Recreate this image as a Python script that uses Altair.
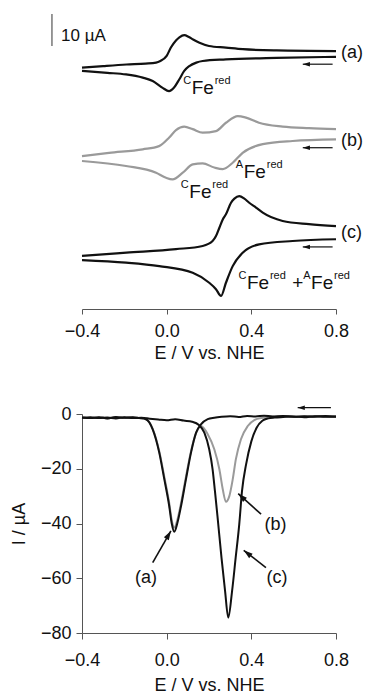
import altair as alt
import pandas as pd

# ---------------- top panel: cyclic voltammograms (uA, relative to each trace's baseline)
A_FWD_E = [-0.40, -0.30, -0.19, -0.10, -0.05, -0.03, 0.00, 0.02, 0.045, 0.06, 0.083, 0.105, 0.125, 0.155, 0.20, 0.28, 0.36, 0.52, 0.80]
A_FWD_I = [0.4, 0.9, 1.4, 1.7, 2.0, 2.5, 4.1, 6.7, 9.0, 9.9, 10.6, 10.0, 9.2, 8.2, 7.2, 6.7, 6.2, 5.8, 5.6]
A_REV_E = [0.80, 0.52, 0.28, 0.17, 0.14, 0.107, 0.083, 0.060, 0.035, 0.011, -0.019, -0.066, -0.113, -0.192, -0.28, -0.40]
A_REV_I = [3.8, 3.5, 3.0, 2.5, 2.0, 0.9, -0.6, -3.2, -5.8, -6.9, -5.9, -3.75, -2.7, -1.7, -1.2, -0.6]

B_FWD_E = [-0.40, -0.272, -0.113, -0.036, 0.011, 0.044, 0.083, 0.123, 0.170, 0.233, 0.280, 0.336, 0.375, 0.436, 0.548, 0.672, 0.80]
B_FWD_I = [0.8, 1.8, 2.9, 3.9, 6.5, 8.9, 10.0, 9.2, 8.1, 8.6, 11.2, 13.3, 12.8, 11.2, 10.0, 9.5, 9.2]
B_REV_E = [0.80, 0.595, 0.454, 0.359, 0.312, 0.265, 0.225, 0.170, 0.123, 0.076, 0.028, -0.003, -0.050, -0.192, -0.40]
B_REV_I = [6.0, 5.5, 4.5, 1.8, -1.3, -3.3, -2.8, -1.5, -1.8, -4.4, -6.5, -6.0, -4.4, -2.3, -0.75]

C_FWD_E = [-0.40, -0.19, 0.044, 0.17, 0.217, 0.233, 0.249, 0.265, 0.280, 0.304, 0.320, 0.343, 0.367, 0.390, 0.422, 0.454, 0.548, 0.672, 0.80]
C_FWD_I = [0.6, 1.6, 2.7, 3.7, 5.25, 6.8, 9.4, 12.0, 13.6, 17.2, 18.5, 19.3, 18.5, 17.2, 15.7, 14.1, 11.5, 10.5, 9.9]
C_REV_E = [0.80, 0.595, 0.437, 0.359, 0.312, 0.280, 0.257, 0.233, 0.201, 0.123, -0.035, -0.192, -0.40]
C_REV_I = [5.8, 5.25, 4.2, 1.6, -2.6, -7.8, -11.9, -9.8, -7.8, -4.7, -2.6, -1.5, -0.7]

CV_OFFSET = {"a": 75.0, "b": 47.0, "c": 16.0}

# ---------------- bottom panel: stripping / linear sweep (uA)
LA_E = [-0.40, -0.36, -0.32, -0.28, -0.24, -0.20, -0.16, -0.13, -0.098, -0.066, -0.035, -0.011, 0.012, 0.024, 0.036, 0.050, 0.068, 0.091, 0.115, 0.139, 0.162, 0.194, 0.225, 0.26, 0.30, 0.34, 0.38, 0.42, 0.46, 0.50, 0.55, 0.60, 0.65, 0.70, 0.75, 0.80]
LA_I = [-1.3, -1.5, -1.2, -1.6, -1.1, -1.4, -1.2, -1.5, -1.9, -5.6, -14.1, -23.9, -33.6, -40.0, -43.0, -40.0, -33.6, -23.9, -14.1, -6.8, -3.8, -1.9, -1.35, -1.0, -0.8, -1.1, -0.7, -0.9, -0.6, -0.9, -0.7, -1.0, -0.8, -1.0, -0.7, -1.0]

LB_E = [-0.40, -0.36, -0.32, -0.28, -0.24, -0.20, -0.16, -0.13, -0.098, -0.066, -0.035, -0.011, 0.012, 0.024, 0.036, 0.050, 0.068, 0.091, 0.115, 0.139, 0.162, 0.194, 0.225, 0.249, 0.265, 0.280, 0.296, 0.312, 0.327, 0.351, 0.383, 0.414, 0.454, 0.50, 0.55, 0.60, 0.65, 0.70, 0.75, 0.80]
LB_I = [-1.3, -1.5, -1.2, -1.6, -1.1, -1.4, -1.2, -1.5, -1.9, -5.4, -13.6, -23.0, -32.5, -38.8, -41.5, -38.8, -32.5, -23.0, -13.6, -7.0, -4.4, -7.4, -12.9, -20.2, -27.5, -32.1, -30.0, -23.9, -16.5, -9.2, -4.4, -2.2, -1.35, -1.0, -0.8, -1.1, -0.9, -0.8, -1.0, -0.9]

LC_E = [-0.40, -0.36, -0.32, -0.28, -0.24, -0.20, -0.16, -0.12, -0.08, -0.04, 0.00, 0.04, 0.08, 0.12, 0.154, 0.178, 0.201, 0.217, 0.228, 0.240, 0.259, 0.276, 0.291, 0.309, 0.326, 0.343, 0.356, 0.375, 0.400, 0.425, 0.452, 0.48, 0.51, 0.55, 0.60, 0.65, 0.70, 0.75, 0.80]
LC_I = [-1.4, -1.2, -1.5, -1.3, -1.6, -1.2, -1.5, -1.4, -1.7, -2.0, -2.3, -1.9, -2.4, -2.8, -4.1, -6.8, -12.9, -20.2, -28.1, -37.3, -52.5, -64.7, -74.4, -64.7, -52.5, -40.2, -28.1, -18.5, -10.0, -5.0, -2.5, -1.6, -1.3, -1.1, -0.9, -1.2, -0.8, -1.0, -0.9]

X_TICKS = [-0.4, 0.0, 0.4, 0.8]
Y_TICKS = [0, -20, -40, -60, -80]

# annotations (data coordinates)
TOP_TRACE_LABELS = {"text": ["(a)", "(b)", "(c)"], "E": [0.824, 0.824, 0.824], "I": [80.0, 52.5, 23.75]}
TOP_ARROWS = {"E": [0.784, 0.784, 0.784], "E2": [0.643, 0.643, 0.643], "I": [76.5, 50.4, 19.4]}
FE_LABELS = {"pre": ["C", "C", "A", "C", "A"], "E": [0.118, 0.107, 0.364, 0.379, 0.682], "I": [67.1, 34.8, 41.0, 6.16, 6.16]}
PLUS_LABEL = {"text": ["+"], "E": [0.620], "I": [6.16]}
SCALEBAR = {"E": [-0.542], "I": [82.2], "I2": [92.2]}
SCALEBAR_TEXT = {"text": ["10 \u00b5A"], "E": [-0.499], "I": [83.75]}

BOT_LABELS = {"text": ["(a)", "(b)", "(c)"], "E": [-0.098, 0.514, 0.521], "I": [-59.9, -40.4, -59.9]}
BOT_ARROWS = {"E": [-0.066, 0.446, 0.469], "I": [-54.3, -36.6, -56.1], "E2": [0.020, 0.338, 0.364], "I2": [-42.7, -29.1, -49.8]}
BOT_SWEEP_ARROW = {"E": [0.776], "E2": [0.619], "I": [2.3]}

FONT = "Liberation Sans"
INK = "#111111"
HEAD = "M0,0L-0.5,1.6L0.5,1.6Z"
XTITLE = "E / V vs. NHE"

# ---------------- tables
rows = []
for cname, branches in {"a": [(A_FWD_E, A_FWD_I, "f"), (A_REV_E, A_REV_I, "r")],
                        "b": [(B_FWD_E, B_FWD_I, "f"), (B_REV_E, B_REV_I, "r")],
                        "c": [(C_FWD_E, C_FWD_I, "f"), (C_REV_E, C_REV_I, "r")]}.items():
    for es, is_, br in branches:
        for e, i in zip(es, is_):
            rows.append({"E": e, "I": i + CV_OFFSET[cname], "curve": cname, "trace": cname + br})
cv = pd.DataFrame(rows)

lsv_black = pd.DataFrame(
    [{"E": e, "I": i, "trace": "a"} for e, i in zip(LA_E, LA_I)]
    + [{"E": e, "I": i, "trace": "c"} for e, i in zip(LC_E, LC_I)])
lsv_gray = pd.DataFrame({"E": LB_E, "I": LB_I, "trace": "b"})

xs = alt.Scale(domain=[-0.4, 0.8], nice=False, zero=False)
ys_top = alt.Scale(domain=[0, 96.25], nice=False, zero=False)
ys_bot = alt.Scale(domain=[-80, 0], nice=False, zero=False)

AX_STYLE = dict(grid=False, labelFlush=False, domainColor="#555555", tickColor="#555555",
                labelColor=INK, titleColor=INK, labelFont=FONT, titleFont=FONT,
                labelFontSize=18, titleFontSize=18, titleFontWeight="normal")
ax_top = alt.Axis(values=X_TICKS, format=".1f", tickSize=5, labelPadding=8, titlePadding=4, **AX_STYLE)
ax_bot = alt.Axis(values=X_TICKS, format=".1f", tickSize=6, labelPadding=12, titlePadding=7, **AX_STYLE)
ay_bot = alt.Axis(values=Y_TICKS, format="d", tickSize=6, labelPadding=5, titlePadding=12, **AX_STYLE)


def xt(field="E"):
    return alt.X(f"{field}:Q", scale=xs, axis=ax_top, title=XTITLE)


def xb(field="E"):
    return alt.X(f"{field}:Q", scale=xs, axis=ax_bot, title=XTITLE)


def yt(field="I"):
    return alt.Y(f"{field}:Q", scale=ys_top, axis=None)


def yb(field="I"):
    return alt.Y(f"{field}:Q", scale=ys_bot, axis=ay_bot, title="I / \u00b5A")


# ---------------- top panel layers
cv_lines = alt.Chart(cv).mark_line(strokeWidth=2.2, interpolate="monotone").encode(
    x=xt(), y=yt(),
    color=alt.Color("curve:N", scale=alt.Scale(domain=["a", "b", "c"], range=[INK, "#9a9a9a", INK]), legend=None),
    detail="trace:N")

ta = pd.DataFrame(TOP_ARROWS)
top_arrow_lines = alt.Chart(ta).mark_rule(strokeWidth=1.2, color=INK).encode(
    x=xt(), x2=alt.X2("E2:Q", title=XTITLE), y=yt())
top_arrow_heads = alt.Chart(ta).mark_point(shape=HEAD, filled=True, size=80, angle=270,
                                           color=INK, opacity=1, strokeWidth=0).encode(
    x=xt("E2"), y=yt())

tl = alt.Chart(pd.DataFrame(TOP_TRACE_LABELS)).mark_text(
    align="left", baseline="middle", fontSize=18, font=FONT, color=INK).encode(
    x=xt(), y=yt(), text="text:N")

fe = pd.DataFrame(FE_LABELS)
fe_main = alt.Chart(fe).mark_text(align="left", baseline="alphabetic", fontSize=19, font=FONT, color=INK).encode(
    x=xt(), y=yt(), text=alt.value("Fe"))
fe_pre = alt.Chart(fe).mark_text(align="right", baseline="alphabetic", fontSize=11, font=FONT, color=INK,
                                 dx=-0.5, dy=-10).encode(x=xt(), y=yt(), text="pre:N")
fe_suf = alt.Chart(fe).mark_text(align="left", baseline="alphabetic", fontSize=11, font=FONT, color=INK,
                                 dx=23, dy=-10).encode(x=xt(), y=yt(), text=alt.value("red"))
plus = alt.Chart(pd.DataFrame(PLUS_LABEL)).mark_text(align="center", baseline="alphabetic", fontSize=19,
                                                     font=FONT, color=INK).encode(x=xt(), y=yt(), text="text:N")

sb = alt.Chart(pd.DataFrame(SCALEBAR)).mark_rule(strokeWidth=1.5, color="#777777").encode(
    x=xt(), y=yt(), y2=alt.Y2("I2:Q"))
sbt = alt.Chart(pd.DataFrame(SCALEBAR_TEXT)).mark_text(align="left", baseline="alphabetic", fontSize=17,
                                                       font=FONT, color=INK).encode(x=xt(), y=yt(), text="text:N")

top = alt.layer(cv_lines, top_arrow_lines, top_arrow_heads, tl, fe_main, fe_pre, fe_suf, plus, sb, sbt).properties(
    width=254, height=308)

# ---------------- bottom panel layers
gray_line = alt.Chart(lsv_gray).mark_line(strokeWidth=2, interpolate="monotone", color="#9a9a9a").encode(
    x=xb(), y=yb(), detail="trace:N")
black_line = alt.Chart(lsv_black).mark_line(strokeWidth=2, interpolate="monotone", color=INK).encode(
    x=xb(), y=yb(), detail="trace:N")

ba = pd.DataFrame(BOT_ARROWS)
bot_arrow_lines = alt.Chart(ba).mark_rule(strokeWidth=1.6, color=INK).encode(
    x=xb(), y=yb(), x2=alt.X2("E2:Q", title=XTITLE), y2=alt.Y2("I2:Q", title="I / \u00b5A"))
BOT_ANGLES = [30, 312, 308]
bot_heads = []
for k, ang in enumerate(BOT_ANGLES):
    bot_heads.append(alt.Chart(ba.iloc[[k]]).mark_point(shape=HEAD, filled=True, size=130, angle=ang,
                                                        color=INK, opacity=1, strokeWidth=0).encode(
        x=xb("E2"), y=yb("I2")))

sw = pd.DataFrame(BOT_SWEEP_ARROW)
sw_line = alt.Chart(sw).mark_rule(strokeWidth=1.2, color=INK).encode(
    x=xb(), x2=alt.X2("E2:Q", title=XTITLE), y=yb())
sw_head = alt.Chart(sw).mark_point(shape=HEAD, filled=True, size=80, angle=270,
                                   color=INK, opacity=1, strokeWidth=0).encode(x=xb("E2"), y=yb())

bl = alt.Chart(pd.DataFrame(BOT_LABELS)).mark_text(align="center", baseline="middle", fontSize=18,
                                                   font=FONT, color=INK).encode(x=xb(), y=yb(), text="text:N")

bottom = alt.layer(gray_line, black_line, bot_arrow_lines, *bot_heads, sw_line, sw_head, bl).properties(
    width=254, height=219)

chart = alt.vconcat(top, bottom, spacing=105, bounds="flush").properties(
    padding={"left": 9, "top": 0, "right": 0, "bottom": 0}, background="white"
).configure_view(stroke="transparent")

chart.save("out.html", embed_options={"renderer": "svg", "actions": False})
